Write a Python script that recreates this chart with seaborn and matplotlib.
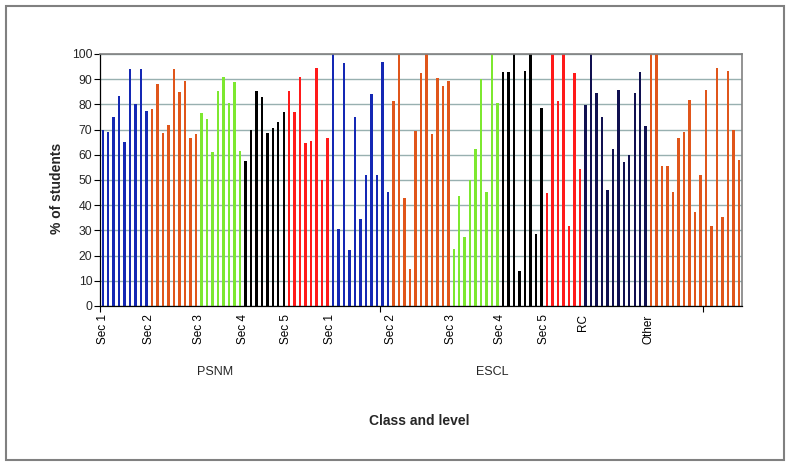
import matplotlib
matplotlib.use("Agg")
import matplotlib.pyplot as plt
import seaborn as sns
import pandas as pd
from matplotlib.patches import Rectangle

sns.set_theme(style="white")
plt.rcParams['font.family'] = ['Liberation Sans', 'DejaVu Sans']

# ---- data ----
group_names = ["PSNM Sec 1", "PSNM Sec 2", "PSNM Sec 3", "PSNM Sec 4", "PSNM Sec 5",
               "ESCL Sec 1", "ESCL Sec 2", "ESCL Sec 3", "ESCL Sec 4", "ESCL Sec 5",
               "ESCL RC", "ESCL Other"]
psnm_sec1 = [70, 69, 75, 83.5, 65, 94, 80, 94, 77.5]
psnm_sec2 = [78, 88, 68.5, 72, 94, 84.8, 89.2, 66.7, 68.3]
psnm_sec3 = [76.5, 74.2, 61, 85.2, 91, 80.4, 88.8, 61.4]
psnm_sec4 = [57.4, 69.8, 85.4, 82.8, 68.5, 70.5, 73.1, 76.9]
psnm_sec5 = [85.2, 77, 91, 64.6, 65.3, 94.3, 49.9, 66.7]
escl_sec1 = [100, 30.6, 96.3, 22.2, 74.9, 34.5, 52, 84.1, 52, 96.7, 45.1]
escl_sec2 = [81.5, 100, 42.9, 14.8, 69.4, 92.5, 100, 68.1, 90.5, 87.3, 89.3]
escl_sec3 = [22.5, 43.7, 27.4, 49.9, 62.3, 90.1, 45.1, 100, 80.6]
escl_sec4 = [92.9, 93, 100, 13.8, 93.4, 100, 28.4, 78.6]
escl_sec5 = [44.8, 100, 81.5, 100, 31.9, 92.6, 54.2]
escl_rc = [79.9, 100, 84.5, 74.9, 46, 62.4, 85.6, 57.1, 59.9, 84.5, 92.7, 71.3]
escl_other = [100, 100, 55.4, 55.4, 45.4, 66.7, 69, 81.6, 37.3, 51.9, 85.6, 31.9,
              94.3, 35.3, 93.1, 69.8, 57.8]
series = [psnm_sec1, psnm_sec2, psnm_sec3, psnm_sec4, psnm_sec5,
          escl_sec1, escl_sec2, escl_sec3, escl_sec4, escl_sec5, escl_rc, escl_other]

tick_labels = ["Sec 1", "Sec 2", "Sec 3", "Sec 4", "Sec 5",
               "Sec 1", "Sec 2", "Sec 3", "Sec 4", "Sec 5", "RC", "Other"]
school_labels = ["PSNM", "ESCL"]

# ---- styles ----
BLUE, ORANGE, GREEN, BLACK, RED, NAVY = "#1428B4", "#E0561B", "#7DE830", "#000000", "#FF1A1A", "#101050"
group_colors = [BLUE, ORANGE, GREEN, BLACK, RED, BLUE, ORANGE, GREEN, BLACK, RED, NAVY, ORANGE]

rows = []
idx = 0
for g, vals in zip(group_names, series):
    for v in vals:
        rows.append({"idx": idx, "value": v, "group": g})
        idx += 1
df = pd.DataFrame(rows)
n = len(df)

starts = []
s = 0
for vals in series:
    starts.append(s)
    s += len(vals)

fig = plt.figure(figsize=(7.91, 4.68), dpi=100)
ax = fig.add_axes([100 / 791, 1 - 306 / 468, 641.7 / 791, 252 / 468])

sns.barplot(data=df, x="idx", y="value", hue="group", hue_order=group_names,
            palette=dict(zip(group_names, group_colors)), dodge=False,
            width=0.45, legend=False, ax=ax, order=list(range(n)), saturation=1,
            linewidth=0, edgecolor="none")

ax.set_xlim(-0.5, n - 0.5)
ax.set_ylim(0, 100)
ax.set_yticks(range(0, 101, 10))
ax.yaxis.grid(True, color="#98B0B0", linewidth=1.0)
ax.set_axisbelow(True)
ax.xaxis.grid(False)

label_pos = [0.0] + [st - 0.5 for st in starts[1:]]
ax.set_xticks(label_pos)
ax.set_xticklabels(tick_labels, rotation=90, fontsize=8.5, va="top", ha="center")
ax.tick_params(axis="x", which="major", length=0, pad=6, colors="black")
ax.set_xticks([-0.5, 50.5, 109.5], minor=True)
ax.tick_params(axis="x", which="minor", length=4, width=0.8, color="black", direction="out", bottom=True)
ax.tick_params(axis="y", length=4, width=0.8, pad=1.5, labelsize=8.8, left=True, direction="out", color="black")

for side in ["left", "bottom"]:
    ax.spines[side].set_color("black")
    ax.spines[side].set_linewidth(0.9)
for side in ["top", "right"]:
    ax.spines[side].set_visible(True)
    ax.spines[side].set_color("#808080")
    ax.spines[side].set_linewidth(1.2)

ax.set_xlabel("")
ax.set_ylabel("")

fig.text(56.7 / 791, 1 - 188 / 468, "% of students", rotation=90, fontsize=10,
         fontweight="bold", ha="center", va="center")
fig.text(214.7 / 791, 1 - 372 / 468, school_labels[0], fontsize=9, ha="center", va="center")
fig.text(492 / 791, 1 - 372 / 468, school_labels[1], fontsize=9, ha="center", va="center")
fig.text(419 / 791, 1 - 421 / 468, "Class and level", fontsize=10, fontweight="bold",
         ha="center", va="center")

fig.patches.append(Rectangle((6.5 / 791, 1 - 460 / 468), (783.5 - 6.5) / 791, (460 - 6) / 468,
                             transform=fig.transFigure, fill=False, edgecolor="#808080",
                             linewidth=1.5))

fig.savefig("out.png", dpi=100)
